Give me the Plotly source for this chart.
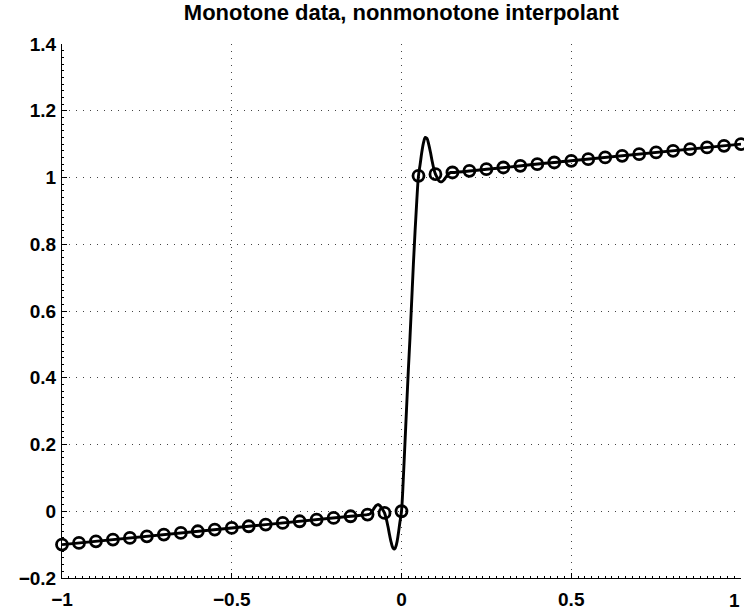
import plotly.graph_objects as go

# data samples (markers)
data_x = [-1.0, -0.95, -0.9, -0.85, -0.8, -0.75, -0.7, -0.65, -0.6, -0.55, -0.5,
          -0.45, -0.4, -0.35, -0.3, -0.25, -0.2, -0.15, -0.1, -0.05, 0.0,
          0.05, 0.1, 0.15, 0.2, 0.25, 0.3, 0.35, 0.4, 0.45, 0.5,
          0.55, 0.6, 0.65, 0.7, 0.75, 0.8, 0.85, 0.9, 0.95, 1.0]
data_y = [-0.1, -0.095, -0.09, -0.085, -0.08, -0.075, -0.07, -0.065, -0.06, -0.055, -0.05,
          -0.045, -0.04, -0.035, -0.03, -0.025, -0.02, -0.015, -0.01, -0.005, 0.0,
          1.005, 1.01, 1.015, 1.02, 1.025, 1.03, 1.035, 1.04, 1.045, 1.05,
          1.055, 1.06, 1.065, 1.07, 1.075, 1.08, 1.085, 1.09, 1.095, 1.1]

# interpolant curve
curve_x = [-1.0, -0.5, -0.15, -0.1, -0.095, -0.09, -0.085, -0.08, -0.075, -0.07, -0.065,
           -0.06, -0.055, -0.05, -0.045, -0.04, -0.035, -0.03, -0.025, -0.02, -0.015,
           -0.01, -0.005, 0.0, 0.005, 0.01, 0.015, 0.02, 0.025, 0.03, 0.035, 0.04,
           0.045, 0.05, 0.055, 0.06, 0.065, 0.07, 0.075, 0.08, 0.085, 0.09, 0.095,
           0.1, 0.105, 0.11, 0.115, 0.12, 0.125, 0.13, 0.135, 0.14, 0.145, 0.15,
           0.5, 1.0]
curve_y = [-0.1, -0.05, -0.015, -0.010, -0.009, -0.005, 0.002, 0.010, 0.017, 0.020, 0.018,
           0.012, 0.004, -0.005, -0.022, -0.045, -0.072, -0.095, -0.110, -0.113, -0.100,
           -0.072, -0.035, 0.0, 0.09, 0.20, 0.31, 0.42, 0.52, 0.63, 0.74, 0.84,
           0.93, 1.005, 1.04, 1.077, 1.105, 1.12, 1.117, 1.10, 1.077, 1.05, 1.027,
           1.01, 1.0, 0.99, 0.987, 0.988, 0.993, 1.0, 1.007, 1.012, 1.015, 1.015,
           1.05, 1.1]

x_ticks = [-1, -0.5, 0, 0.5, 1]
x_labels = ["−1", "−0.5", "0", "0.5", "1"]
y_ticks = [-0.2, 0, 0.2, 0.4, 0.6, 0.8, 1, 1.2, 1.4]
y_labels = ["−0.2", "0", "0.2", "0.4", "0.6", "0.8", "1", "1.2", "1.4"]

fig = go.Figure()
fig.add_trace(go.Scatter(x=curve_x, y=curve_y, mode="lines",
                         line=dict(color="black", width=2.9), line_shape="spline",
                         showlegend=False, hoverinfo="skip", cliponaxis=False))
fig.add_trace(go.Scatter(x=data_x, y=data_y, mode="markers",
                         marker=dict(symbol="circle-open", size=11, color="black",
                                     line=dict(width=2.8, color="black")),
                         showlegend=False, cliponaxis=False))

axis_font = dict(family="Liberation Sans, Arial, sans-serif", size=19, color="black")
grid = dict(showgrid=True, gridcolor="#444444", griddash="1px,6px", gridwidth=1)

# last x label sits at the right edge: draw it right-anchored so it stays fully visible
tick_text_x = ["<b>%s</b>" % t for t in x_labels[:-1]] + [""]
fig.add_annotation(x=x_ticks[-1], xref="x", y=0, yref="paper",
                   text="<b>%s</b>" % x_labels[-1], showarrow=False,
                   xanchor="right", yanchor="middle", xshift=1, yshift=-22,
                   font=axis_font)

fig.update_layout(
    template="none",
    width=744, height=611,
    margin=dict(l=62, r=3, t=44, b=33),
    paper_bgcolor="white", plot_bgcolor="white",
    title=dict(text="<b>Monotone data, nonmonotone interpolant</b>",
               x=0.5395, xanchor="center", y=0.980, yanchor="middle",
               font=dict(family="Liberation Sans, Arial, sans-serif", size=22, color="black")),
    xaxis=dict(range=[-1, 1], tickvals=x_ticks, automargin=False,
               ticktext=tick_text_x, ticklabeloverflow="allow",
               ticks="inside", ticklen=5, tickcolor="black", tickwidth=1,
               minor=dict(ticks="inside", ticklen=2, dtick=0.02, tickcolor="black", showgrid=False),
               showline=True, linecolor="black", linewidth=1, mirror=False,
               zeroline=False, tickfont=axis_font, ticklabelstandoff=4, **grid),
    yaxis=dict(range=[-0.2, 1.4], tickvals=y_ticks, automargin=False,
               ticktext=["<b>%s</b>" % t for t in y_labels], ticklabeloverflow="allow",
               ticks="inside", ticklen=5, tickcolor="black", tickwidth=1,
               minor=dict(ticks="inside", ticklen=2, dtick=0.02, tickcolor="black", showgrid=False),
               showline=True, linecolor="black", linewidth=1, mirror=False,
               zeroline=False, tickfont=axis_font, ticklabelstandoff=1, **grid),
)
fig.write_html("out.html", config={"displayModeBar": False},
               post_script="document.body.style.margin='0';document.body.style.padding='0';")
